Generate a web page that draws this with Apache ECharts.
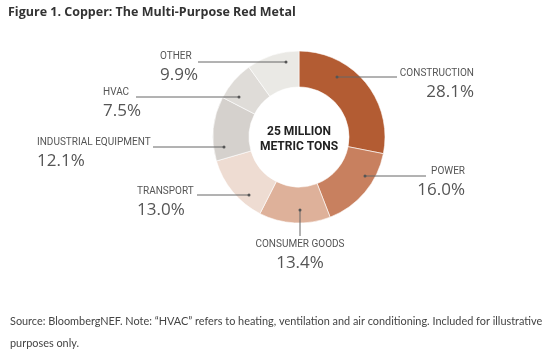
<!DOCTYPE html>
<html><head><meta charset="utf-8">
<script src="https://cdn.jsdelivr.net/npm/echarts@6/dist/echarts.min.js"></script>
<style>html,body{margin:0;padding:0;background:#fff;}#c{width:545px;height:358px;}</style>
</head><body><div id="c"></div>
<script>
const categories = ['CONSTRUCTION','POWER','CONSUMER GOODS','TRANSPORT','INDUSTRIAL EQUIPMENT','HVAC','OTHER'];
const shares = [28.1, 16.0, 13.4, 13.0, 12.1, 7.5, 9.9];
const sliceColors = ['#b35c33','#c8805f','#deb19a','#eedcd2','#d5d1cd','#dfdcd8','#eae9e5'];
const centerText = ['25 MILLION','METRIC TONS'];

// label layout (position of each label and its leader line)
const layouts = [
  {x:474, y:83, align:'right', line:[[337,77],[397,77]]},
  {x:465, y:181, align:'right', line:[[365,176],[426,176]]},
  {x:300, y:254, align:'center', line:[[300,210],[300,236]]},
  {x:137, y:201, align:'left', line:[[249,195],[197,195]]},
  {x:37, y:152, align:'left', line:[[224,147],[153,147]]},
  {x:103, y:102, align:'left', line:[[239,97],[136,97]]},
  {x:160, y:66, align:'left', line:[[286,62],[198,62]]}
];

const chart = echarts.init(document.getElementById('c'), null, {renderer:'canvas'});
const nameFont = 'Roboto,sans-serif';
const pieData = categories.map((c,i)=>({name:c, value:shares[i], itemStyle:{color:sliceColors[i]}}));
chart.setOption({
  animation:false,
  title:[
    {text:'Figure 1. Copper: The Multi-Purpose Red Metal', left:8, top:6, padding:0,
     textStyle:{fontFamily:'"Open Sans",sans-serif', fontWeight:'bold', fontSize:12.5, color:'#333'}},
    {text:centerText.join('\n'), left:299, top:124, padding:0, textAlign:'center',
     textStyle:{fontFamily:'Roboto,sans-serif', fontWeight:'bold', fontSize:12, lineHeight:15, color:'#222'}},
    {text:'Source: BloombergNEF. Note: \u201cHVAC\u201d refers to heating, ventilation and air conditioning. Included for illustrative\npurposes only.',
     left:10, top:310, padding:0,
     textStyle:{fontFamily:'Lato,sans-serif', fontWeight:'normal', fontSize:10.9, lineHeight:22, color:'#444'}}
  ],
  graphic: layouts.map(L=>({type:'circle', shape:{cx:L.line[0][0], cy:L.line[0][1], r:1.5}, style:{fill:'#555'}, z:200, silent:true})),
  series:[{
    type:'pie',
    center:[299,137],
    radius:[50,86],
    startAngle:90,
    clockwise:true,
    silent:true,
    z:2,
    itemStyle:{borderColor:'#fff', borderWidth:0.6},
    data:pieData,
    label:{show:false},
    labelLine:{show:false}
  },{
    type:'pie',
    center:[299,137],
    radius:[50,86],
    startAngle:90,
    clockwise:true,
    silent:true,
    z:10,
    itemStyle:{color:'rgba(0,0,0,0)', borderWidth:0},
    data:categories.map((c,i)=>({name:c, value:shares[i]})),
    label:{
      show:true, position:'outside',
      formatter:p=>'{n|'+p.name+'}\n{v|'+p.value.toFixed(1)+'%}',
      rich:{
        n:{fontFamily:nameFont, fontSize:10, color:'#555', lineHeight:18},
        v:{fontFamily:'"Open Sans",sans-serif', fontSize:17, color:'#555', lineHeight:19}
      }
    },
    labelLine:{show:true, lineStyle:{color:'#666', width:1}},
    labelLayout:function(params){
      const L = layouts[params.dataIndex];
      return {x:L.x, y:L.y, align:L.align, verticalAlign:'middle',
              labelLinePoints:[L.line[0], L.line[0], L.line[1]]};
    }
  }]
});
</script></body></html>
